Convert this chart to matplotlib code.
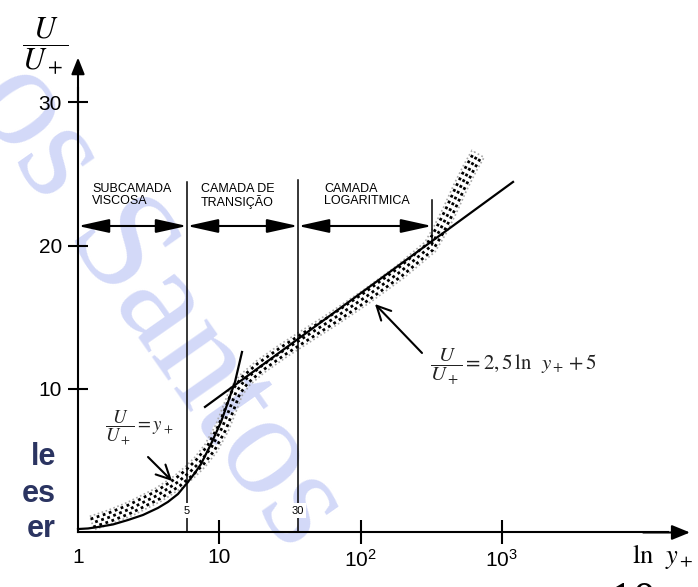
import numpy as np
import matplotlib
matplotlib.use("Agg")
import matplotlib.pyplot as plt
from matplotlib.patches import Polygon
from matplotlib.ticker import NullLocator

plt.rcParams["font.family"] = ["Liberation Sans", "DejaVu Sans"]
plt.rcParams["mathtext.fontset"] = "stix"

# solid curve of the viscous sublayer, U/U+ = y+
visc_y = [1.0, 1.177, 1.385, 1.769, 2.26, 2.884, 3.68, 4.33, 5.10, 6.00, 6.72,
          7.42, 8.74, 10.28, 11.52, 12.91, 14.48]
visc_u = [0.24, 0.28, 0.38, 0.56, 0.87, 1.22, 1.71, 2.13, 2.68, 3.52, 4.15,
          4.77, 6.17, 7.70, 9.09, 10.49, 12.58]

# straight log-law line
log_y = [7.92, 1199.0]
log_u = [8.75, 24.43]

# centre of the band of measured points
band_y = [1.256, 1.685, 2.33, 3.68, 5.10, 6.20, 7.30, 8.74, 10.45, 11.90, 13.13,
          15.20, 19.41, 28.2, 37.2, 63.8, 111.0, 190.0, 309.9, 364.8, 429.3,
          505.3, 594.6, 677.5]
band_u = [0.66, 1.08, 1.64, 2.61, 3.52, 4.22, 4.91, 5.89, 7.28, 8.68, 9.79,
          10.63, 11.53, 12.65, 13.41, 14.88, 16.48, 18.15, 19.90, 21.08, 22.47,
          24.01, 25.40, 26.38]

# region limits and labels
region_edges = [1.0, 5.91, 36.1, 320.0]
region_top = [24.43, 24.56, 23.17]
region_names = ["SUBCAMADA\nVISCOSA", "CAMADA DE\nTRANSIÇÃO", "CAMADA\nLOGARITMICA"]
region_text_x = [1.256, 7.42, 55.1]
edge_marks = ["5", "30"]

x_ticks = [1, 10, 100, 1000]
x_tick_labels = ["1", "10", r"$\mathregular{10^2}$", r"$\mathregular{10^3}$"]
y_ticks = [10, 20, 30]

side_words = ["le", "es", "er"]

fig = plt.figure(figsize=(6.98, 5.87), dpi=100)
ax = fig.add_axes([0, 0, 1, 1])
ax.set_xscale("log")
ax.set_xlim(0.2805, 24430)
ax.set_ylim(-3.80, 37.11)
ax.xaxis.set_minor_locator(NullLocator())

# watermark
ax.text(158 / 698, 1 - 306 / 587, "os Santos", transform=ax.transAxes,
        family="Liberation Serif", fontsize=105, color="#d3d9f8",
        rotation=-55, rotation_mode="anchor", ha="center", va="center", zorder=0)

for s in ["top", "right"]:
    ax.spines[s].set_visible(False)
ax.spines["left"].set_position(("data", 1))
ax.spines["bottom"].set_position(("data", 0))
ax.spines["left"].set_bounds(0, 31)
ax.spines["bottom"].set_bounds(1, 15000)
ax.spines["left"].set_linewidth(1.5)
ax.spines["bottom"].set_linewidth(1.5)

ax.set_xticks(x_ticks)
ax.set_xticklabels(x_tick_labels)
ax.set_yticks(y_ticks)
ax.tick_params(axis="x", direction="inout", length=17, width=1.5, pad=3, labelsize=15)
ax.tick_params(axis="y", direction="inout", length=15, width=1.5, pad=4, labelsize=15)
ax.xaxis.get_major_ticks()[0].tick1line.set_visible(False)

arrow_kw = dict(color="black", lw=1.5, shrinkA=0, shrinkB=0, mutation_scale=10)
ax.annotate("", xy=(21430, 0), xytext=(10000, 0),
            arrowprops=dict(arrowstyle="-|>,head_length=1.1,head_width=0.45", **arrow_kw))
ax.annotate("", xy=(1, 33.1), xytext=(1, 28),
            arrowprops=dict(arrowstyle="-|>,head_length=1.0,head_width=0.4", **arrow_kw))

# band of experimental points: dotted rows offset from the band centre
pts = ax.transData.transform(np.column_stack([band_y, band_u]))
d = np.gradient(pts, axis=0)
nrm = np.column_stack([-d[:, 1], d[:, 0]])
nrm /= np.hypot(nrm[:, 0], nrm[:, 1])[:, None]
inv = ax.transData.inverted()
half = 7.0
outline = inv.transform(np.vstack([pts + nrm * half, (pts - nrm * half)[::-1]]))
ax.add_patch(Polygon(outline, closed=True, fill=False, edgecolor="#a8a8a8",
                     linestyle=(0, (1, 1.5)), linewidth=1.2, zorder=2))
for k, off in enumerate([-4.2, 0.0, 4.2]):
    row = inv.transform(pts + nrm * off)
    ax.plot(row[:, 0], row[:, 1], color="black", lw=2.0,
            linestyle=(1.1 * (k % 2), (1, 1.3)), dash_capstyle="butt", zorder=2)

ax.plot(visc_y, visc_u, color="black", lw=1.6, zorder=3)
ax.plot(log_y, log_u, color="black", lw=1.6, zorder=3)

# region separators, double arrows and labels
arrow_u = 21.36
for xe, top in zip(region_edges[1:], region_top):
    low = 20.03 if top < 24 else 0
    ax.plot([xe, xe], [low, top], color="black", lw=1.1, zorder=3)
for i in range(3):
    ax.annotate("", xy=(region_edges[i + 1], arrow_u), xytext=(region_edges[i], arrow_u),
                arrowprops=dict(arrowstyle="<|-|>,head_length=1.9,head_width=0.42", **arrow_kw))
    ax.text(region_text_x[i], 24.36, region_names[i], fontsize=9, ha="left", va="top",
            linespacing=1.05)
for xe, mark in zip(region_edges[1:3], edge_marks):
    ax.text(xe, 1.53, mark, fontsize=8, ha="center", va="center", zorder=4,
            bbox=dict(facecolor="white", edgecolor="none", pad=1.5))

# equations and their arrows
ax.text(1.553, 7.28, r"$\dfrac{U}{U_+} = y_+$", fontsize=13.5, ha="left", va="center", color="#222222")
ax.annotate("", xy=(4.63, 3.59), xytext=(3.13, 5.26),
            arrowprops=dict(arrowstyle="->,head_length=1.0,head_width=0.5", **arrow_kw))
ax.text(309.8, 11.53, r"$\dfrac{U}{U_+} = 2,5\,\mathrm{ln}\ \ y_+ + 5$", fontsize=15,
        ha="left", va="center", color="#222222")
ax.annotate("", xy=(126.4, 15.92), xytext=(272, 12.51),
            arrowprops=dict(arrowstyle="->,head_length=1.0,head_width=0.5", **arrow_kw))

# axis titles
ax.text(0.584, 33.9, r"$\dfrac{U}{U_+}$", fontsize=22, ha="center", va="center")
ax.text(8337, -2.13, r"$\mathrm{ln}\ \ y_+$", fontsize=19, ha="left", va="baseline")

# pieces of the surrounding slide
ax.text(8470, -3.45, "10", family="Liberation Serif", fontsize=33, ha="center", va="top")
for word, base in zip(side_words, [465, 502, 537]):
    ax.text(56 / 698, 1 - base / 587, word, transform=ax.transAxes, fontsize=22,
            fontweight="bold", color="#2b3461", ha="right", va="baseline")

fig.savefig("out.png", dpi=100)
